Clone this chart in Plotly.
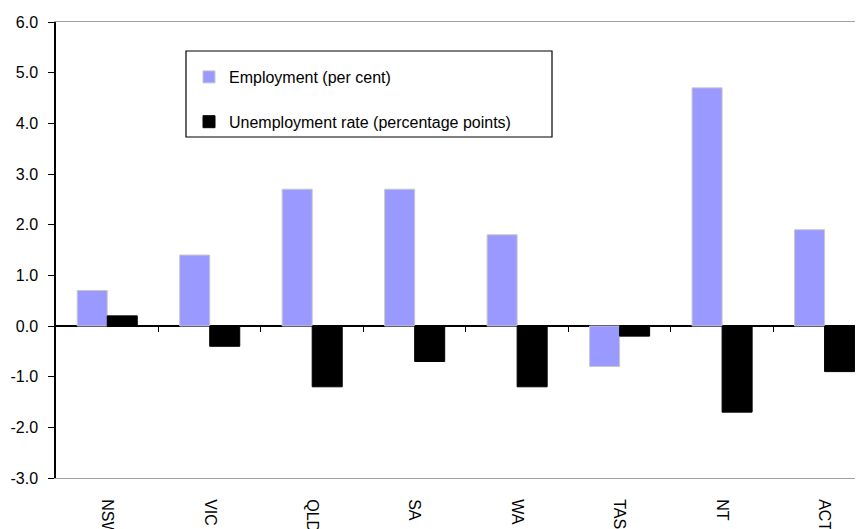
import plotly.graph_objects as go

states = ["NSW", "VIC", "QLD", "SA", "WA", "TAS", "NT", "ACT"]
employment = [0.7, 1.4, 2.7, 2.7, 1.8, -0.8, 4.7, 1.9]
unemployment = [0.2, -0.4, -1.2, -0.7, -1.2, -0.2, -1.7, -0.9]
y_ticks = [-3, -2, -1, 0, 1, 2, 3, 4, 5, 6]
y_tick_labels = ["-3.0", "-2.0", "-1.0", "0.0", "1.0", "2.0", "3.0", "4.0", "5.0", "6.0"]

FONT = "Liberation Sans"
n = len(states)
xr = [-0.5, n - 0.5 - 0.125]

# page has an 8px body margin; size the figure so the plot lands where the reference has it
OFF = 8
W, H = 863 - OFF, 529 - OFF
L, T, B = 56 - OFF, 22 - OFF, 51
PW = W - L
PH = H - T - B

fig = go.Figure()
fig.add_trace(go.Bar(
    x=states, y=employment, name="Employment (per cent)",
    marker=dict(color="#9999FF", line=dict(color="#C8C8C8", width=1)),
    legendgroup="a",
))
fig.add_trace(go.Bar(
    x=states, y=unemployment, name="Unemployment rate (percentage points)",
    marker=dict(color="#000000", line=dict(color="#000000", width=1)),
    legendgroup="b",
))
# helper axis for category-boundary tick marks on the zero line
fig.add_trace(go.Scatter(
    x=[0], y=[0], xaxis="x2", mode="none", showlegend=False, hoverinfo="skip",
))

def px_x(px):
    return (px - 56) / PW

def px_y(py):
    return (22 + PH - py) / PH

fig.update_layout(
    width=W, height=H,
    margin=dict(l=L, r=0, t=T, b=B, autoexpand=False),
    paper_bgcolor="white", plot_bgcolor="white",
    font=dict(family=FONT, size=16, color="black"),
    barmode="group", bargap=0.414, bargroupgap=0,
    showlegend=True,
    legend=dict(
        x=px_x(189), y=px_y(60), xanchor="left", yanchor="top",
        bgcolor="rgba(0,0,0,0)", borderwidth=0,
        font=dict(family=FONT, size=16, color="black"),
        tracegroupgap=21, traceorder="grouped",
        itemwidth=30,
    ),
    xaxis=dict(
        type="category", range=xr,
        showgrid=False, zeroline=False,
        showline=True, linecolor="#A0A0A0", linewidth=1, mirror=True,
        ticks="", tickangle=90, ticklabelstandoff=17,
        tickfont=dict(family=FONT, size=16, color="black"),
        automargin=False,
    ),
    xaxis2=dict(
        overlaying="x", anchor="free", position=1/3, side="bottom",
        range=xr, showgrid=False, zeroline=False, showline=False,
        tickvals=[i + 0.5 for i in range(n)],
        ticks="outside", ticklen=5, tickwidth=1, tickcolor="black",
        showticklabels=False,
    ),
    yaxis=dict(
        range=[-3, 6], tickvals=y_ticks, ticktext=y_tick_labels,
        showgrid=False,
        zeroline=True, zerolinecolor="black", zerolinewidth=1.5,
        showline=True, linecolor="black", linewidth=1.5,
        ticks="outside", ticklen=6, tickwidth=1.2, tickcolor="black",
        ticklabelstandoff=7,
        tickfont=dict(family=FONT, size=16, color="black"),
        automargin=False,
    ),
    shapes=[dict(
        type="rect", xref="paper", yref="paper",
        x0=px_x(186), x1=px_x(552),
        y0=px_y(137), y1=px_y(51),
        line=dict(color="black", width=1.2), fillcolor="rgba(0,0,0,0)",
        layer="above",
    )],
)

fig.write_html("out.html")
